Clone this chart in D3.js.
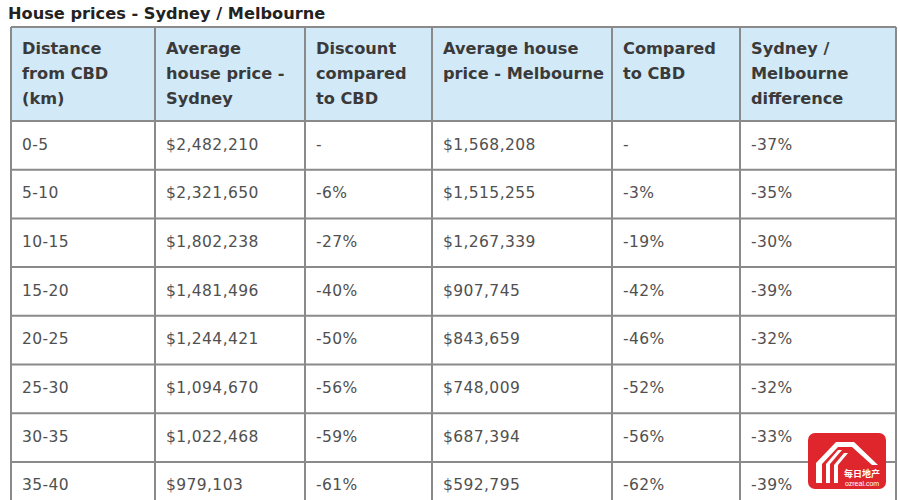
<!DOCTYPE html>
<html><head><meta charset="utf-8">
<script src="https://cdn.jsdelivr.net/npm/d3@7"></script>
<style>body{margin:0;background:#fff}svg{display:block}</style>
</head><body>
<svg id="c" width="900" height="500"></svg>
<script>
const title = "House prices - Sydney / Melbourne";
const headers = [
  ["Distance","from CBD","(km)"],
  ["Average","house price -","Sydney"],
  ["Discount","compared","to CBD"],
  ["Average house","price - Melbourne"],
  ["Compared","to CBD"],
  ["Sydney /","Melbourne","difference"]
];
const distances = ["0-5","5-10","10-15","15-20","20-25","25-30","30-35","35-40"];
const sydneyPrice = [2482210,2321650,1802238,1481496,1244421,1094670,1022468,979103];
const sydneyDiscount = ["-","-6%","-27%","-40%","-50%","-56%","-59%","-61%"];
const melbPrice = [1568208,1515255,1267339,907745,843659,748009,687394,592795];
const melbDiscount = ["-","-3%","-19%","-42%","-46%","-52%","-56%","-62%"];
const difference = ["-37%","-35%","-30%","-39%","-32%","-32%","-33%","-39%"];

(function(){
const svg = d3.select("#c");
const fmt = v => "$" + d3.format(",")(v);
const rows = distances.map((d,i)=>[d, fmt(sydneyPrice[i]), sydneyDiscount[i], fmt(melbPrice[i]), melbDiscount[i], difference[i]]);

const colEdges = [11,155,305,432,612,740,896];
const tableTop = 27, headerBottom = 121, rowH = 48.7;
const yRow = d3.scaleLinear().domain([0,1]).range([headerBottom, headerBottom+rowH]);
const FONT = "DejaVu Sans, Verdana, sans-serif";

svg.append("text").attr("x",8).attr("y",19).text(title)
  .attr("font-family",FONT).attr("font-size",16.2).attr("font-weight","bold").attr("fill","#222");

svg.append("rect").attr("x",colEdges[0]).attr("y",tableTop).attr("width",colEdges[6]-colEdges[0]).attr("height",headerBottom-tableTop).attr("fill","#d2e9f8");

headers.forEach((lines,c)=>{
  const t = svg.append("text").attr("font-family",FONT).attr("font-size",16.2).attr("font-weight","bold").attr("fill","#3a3a3a");
  lines.forEach((l,k)=>t.append("tspan").attr("x",colEdges[c]+11).attr("y",54+k*25).text(l));
});

rows.forEach((r,i)=>{
  r.forEach((v,c)=>{
    svg.append("text").attr("x",colEdges[c]+11).attr("y",yRow(i)+28.5).text(v)
      .attr("font-family",FONT).attr("font-size",15.5).attr("letter-spacing",0.4).attr("fill","#505050");
  });
});

const gl = svg.append("g").attr("stroke","#8a8a8a").attr("stroke-width",2);
const bottom = yRow(rows.length);
colEdges.forEach(x=>gl.append("line").attr("x1",x).attr("x2",x).attr("y1",tableTop).attr("y2",bottom));
gl.append("line").attr("x1",colEdges[0]).attr("x2",colEdges[6]).attr("y1",tableTop).attr("y2",tableTop);
d3.range(rows.length).forEach(i=>gl.append("line").attr("x1",colEdges[0]).attr("x2",colEdges[6]).attr("y1",yRow(i)).attr("y2",yRow(i)));

const wm = svg.append("g").attr("transform","translate(808,433)");
wm.append("rect").attr("width",78).attr("height",56).attr("rx",7).attr("fill","#e0262d");
wm.append("path").attr("d","M8 50 L8 30 L28 9 L46 9 L70 32 L64 32 L44 14 L30 14 L14 31 L14 50 Z").attr("fill","#fff");
wm.append("path").attr("d","M18 50 L18 31 L30 17 L34 17 L22 31 L22 50 Z M26 50 L26 32 L36 20 L40 20 L30 32 L30 50 Z").attr("fill","#fff");
wm.append("text").attr("x",54).attr("y",44).attr("text-anchor","middle").attr("font-size",9).attr("font-weight","bold").attr("fill","#fff").attr("font-family","Noto Sans CJK SC").text("每日地产");
wm.append("text").attr("x",54).attr("y",53).attr("text-anchor","middle").attr("font-size",7).attr("fill","#fff").attr("font-family","Liberation Sans").text("ozreal.com");
})();
</script>
</body></html>
